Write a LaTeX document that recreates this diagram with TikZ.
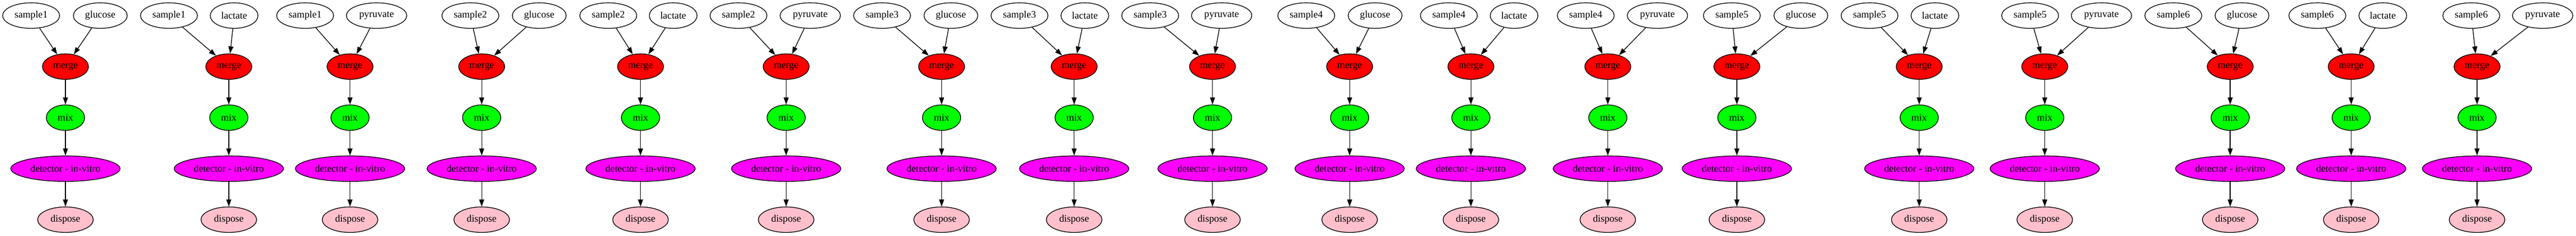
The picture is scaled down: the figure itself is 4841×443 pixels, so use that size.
\documentclass[tikz,border=0pt]{standalone}
\usepackage{fontspec}
\setmainfont{Liberation Serif}
\usetikzlibrary{shapes.geometric,arrows.meta}
\definecolor{gvred}{RGB}{255,0,0}
\definecolor{gvgreen}{RGB}{0,255,0}
\definecolor{gvmagenta}{RGB}{255,0,255}
\definecolor{gvpink}{RGB}{255,192,203}
\newcommand{\gvlabel}[1]{\makebox[0pt]{#1}}
\tikzset{
  gvnode/.style={ellipse, draw=black, line width=1pt, inner sep=0pt,
    minimum height=36pt, font=\fontsize{14pt}{16pt}\selectfont},
  topnode/.style={gvnode, fill=white},
  mergenode/.style={gvnode, fill=gvred, minimum width=64.9pt},
  mixnode/.style={gvnode, fill=gvgreen, minimum width=54pt},
  detnode/.style={gvnode, fill=gvmagenta, minimum width=154pt},
  disposenode/.style={gvnode, fill=gvpink, minimum width=78.4pt},
  edge/.style={draw=black, line width=1pt, -{Triangle[length=10pt,width=7pt]}}
}
\begin{document}
\begin{tikzpicture}[x=0.75pt,y=-0.75pt]
\useasboundingbox (0,0) rectangle (4841,443);
\foreach \i/\smp/\rg/\sx/\rx/\cx/\rw in {
  1/sample1/glucose/58.5/188.5/123/75.9,
  2/sample1/lactate/317.5/440/430/67.3,
  3/sample1/pyruvate/573.4/707.7/657.8/85.1,
  4/sample2/glucose/884/1013.4/905.2/75.9,
  5/sample2/lactate/1143.1/1265.1/1203.7/67.3,
  6/sample2/pyruvate/1387.8/1522.7/1477.4/85.1,
  7/sample3/glucose/1657.6/1787/1769.5/75.9,
  8/sample3/lactate/1915.9/2038.7/2018.6/67.3,
  9/sample3/pyruvate/2161.5/2295.8/2278.6/85.1,
  10/sample4/glucose/2454.8/2584.2/2536.3/75.9,
  11/sample4/lactate/2722.8/2845.4/2764.2/67.3,
  12/sample4/pyruvate/2980/3114.8/3021.5/85.1,
  13/sample5/glucose/3254.6/3384.3/3264/75.9,
  14/sample5/lactate/3513.4/3636.3/3606.7/67.3,
  15/sample5/pyruvate/3815.1/3949.2/3842.6/85.1,
  16/sample6/glucose/4084.2/4213.3/4191.1/75.9,
  17/sample6/lactate/4354.9/4477.9/4418.5/67.3,
  18/sample6/pyruvate/4644.2/4778.3/4655/85.1}{
  \node[topnode, minimum width=80.25pt] (s\i) at (\sx,29.33) {\gvlabel{\smp}};
  \node[topnode, minimum width=\rw pt] (r\i) at (\rx,29.33) {\gvlabel{\rg}};
  \node[mergenode] (m\i) at (\cx,125.33) {\gvlabel{merge}};
  \node[mixnode] (x\i) at (\cx,221.33) {\gvlabel{mix}};
  \node[detnode] (d\i) at (\cx,317.33) {\gvlabel{detector - in-vitro}};
  \node[disposenode] (p\i) at (\cx,413.33) {\gvlabel{dispose}};
  \draw[edge] (s\i) -- (m\i);
  \draw[edge] (r\i) -- (m\i);
  \draw[edge] (m\i) -- (x\i);
  \draw[edge] (x\i) -- (d\i);
  \draw[edge] (d\i) -- (p\i);
}
\end{tikzpicture}
\end{document}
